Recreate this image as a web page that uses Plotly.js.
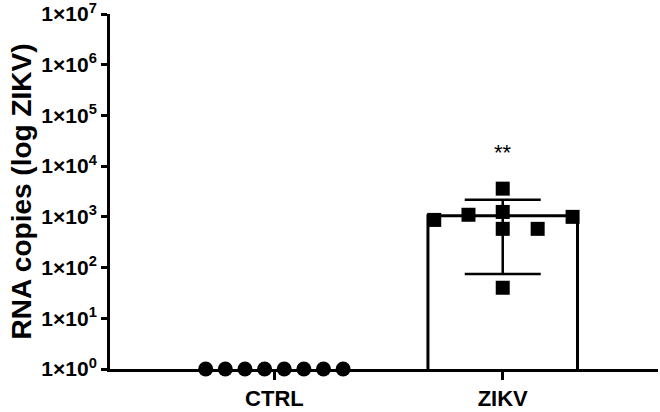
<!DOCTYPE html>
<html>
<head>
<meta charset="utf-8">
<script src="https://cdn.plot.ly/plotly-3.0.1.min.js"></script>
<style>html,body{margin:0;padding:0;background:#fff;}#chart{width:660px;height:412px;}</style>
</head>
<body>
<div id="chart"></div>
<script>
// ---- data ----
const categories = ['CTRL', 'ZIKV'];
const barMeans = [null, 1050];
const errUpper = [null, 1120];   // upper SD distance
const errLower = [null, 975];    // lower SD distance
const ctrlValues = [1, 1, 1, 1, 1, 1, 1, 1];
const zikvValues = [870, 1100, 3600, 1250, 580, 580, 1000, 40];
const yTickVals = [1, 10, 100, 1000, 10000, 100000, 1000000, 10000000];
const yTickText = ['1×10<sup>0</sup>', '1×10<sup>1</sup>', '1×10<sup>2</sup>', '1×10<sup>3</sup>',
                   '1×10<sup>4</sup>', '1×10<sup>5</sup>', '1×10<sup>6</sup>', '1×10<sup>7</sup>'];
const sigLabel = '**';

// ---- scatter layout (horizontal spread of points within a column) ----
const ctrlSpread = [-3.5, -2.5, -1.5, -0.5, 0.5, 1.5, 2.5, 3.5].map(k => k * 0.086);
const zikvSpread = [-0.30, -0.15, 0, 0, 0, 0.153, 0.306, 0];

const fam = 'Liberation Sans, Arial, sans-serif';

const traces = [
  {
    type: 'bar', x: [0, 1], y: barMeans, width: 0.655,
    marker: {color: '#fff', line: {color: '#000', width: 3}},
    error_y: {type: 'data', symmetric: false, array: errUpper, arrayminus: errLower,
              color: '#000', thickness: 2.5, width: 38},
    hoverinfo: 'skip'
  },
  {
    type: 'scatter', mode: 'markers',
    x: ctrlSpread.map(d => 0 + d), y: ctrlValues,
    marker: {symbol: 'circle', size: 15, color: '#000'},
    cliponaxis: false
  },
  {
    type: 'scatter', mode: 'markers',
    x: zikvSpread.map(d => 1 + d), y: zikvValues,
    marker: {symbol: 'square', size: 14, color: '#000'},
    cliponaxis: false
  }
];

const layout = {
  width: 660, height: 412,
  margin: {l: 110, r: 2, t: 14, b: 43},
  paper_bgcolor: '#fff', plot_bgcolor: '#fff',
  showlegend: false,
  font: {family: fam, color: '#000'},
  xaxis: {
    range: [-0.72, 1.68], tickvals: [0, 1], ticktext: categories,
    showgrid: false, zeroline: false,
    showline: true, linecolor: '#000', linewidth: 3,
    ticks: 'outside', ticklen: 8, tickwidth: 3, tickcolor: '#000',
    tickfont: {family: fam, size: 22, color: '#000', weight: 'bold'}
  },
  yaxis: {
    type: 'log', range: [0, 7],
    tickvals: yTickVals, ticktext: yTickText,
    ticklabeloverflow: 'allow',
    showgrid: false, zeroline: false,
    showline: true, linecolor: '#000', linewidth: 3,
    ticks: 'outside', ticklen: 6, tickwidth: 3, tickcolor: '#000',
    tickfont: {family: fam, size: 21, color: '#000', weight: 'bold'},
    title: {text: 'RNA copies (log ZIKV)', standoff: 2,
            font: {family: fam, size: 28, color: '#000', weight: 'bold'}}
  },
  annotations: [{
    x: 1, y: Math.log10(zikvValues.reduce((a, b) => Math.max(a, b))) + 0.72,
    xref: 'x', yref: 'y', text: sigLabel, showarrow: false,
    font: {family: fam, size: 22, color: '#000'}
  }]
};

Plotly.newPlot('chart', traces, layout, {displayModeBar: false, staticPlot: true});
</script>
</body>
</html>
